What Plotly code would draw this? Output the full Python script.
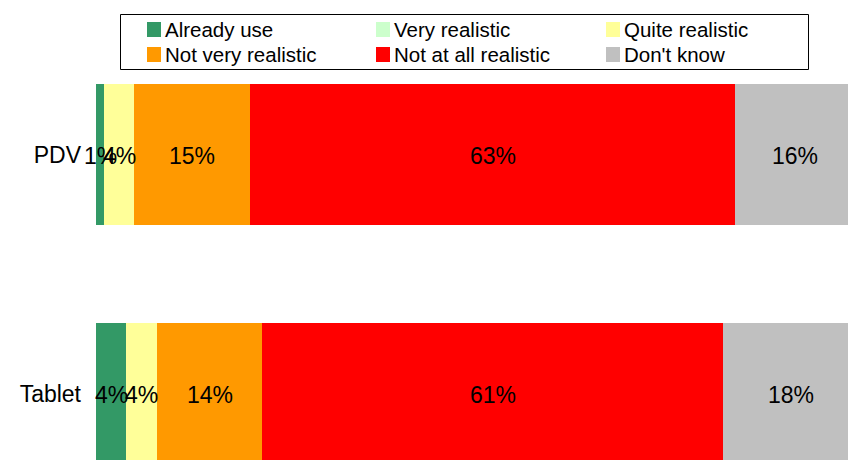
import plotly.graph_objects as go

categories = ["PDV", "Tablet"]
series_names = ["Already use", "Very realistic", "Quite realistic",
                "Not very realistic", "Not at all realistic", "Don't know"]
colors = ["#339966", "#CCFFCC", "#FFFF99", "#FF9900", "#FF0000", "#C0C0C0"]

# values (percent of bar length)
already_use = [1.1, 4.0]
very_realistic = [0.0, 0.0]
quite_realistic = [4.0, 4.1]
not_very_realistic = [15.4, 14.0]
not_at_all_realistic = [64.5, 61.3]
dont_know = [16.0, 18.0]

# data labels as printed on the chart
lbl_already_use = ["1%", "4%"]
lbl_very_realistic = ["", ""]
lbl_quite_realistic = ["4%", "4%"]
lbl_not_very_realistic = ["15%", "14%"]
lbl_not_at_all_realistic = ["63%", "61%"]
lbl_dont_know = ["16%", "18%"]

values = [already_use, very_realistic, quite_realistic,
          not_very_realistic, not_at_all_realistic, dont_know]
labels = [lbl_already_use, lbl_very_realistic, lbl_quite_realistic,
          lbl_not_very_realistic, lbl_not_at_all_realistic, lbl_dont_know]

W, H = 848, 460
ML, MT = 96, 84
PW, PH = W - ML, H - MT
FONT = "Liberation Sans, Arial, sans-serif"

fig = go.Figure()
for name, col, vals in zip(series_names, colors, values):
    fig.add_trace(go.Bar(
        y=categories, x=vals, name=name, orientation="h",
        marker=dict(color=col, line=dict(width=0)),
        hoverinfo="skip", showlegend=False,
    ))

annotations = []
# data labels centred on each segment (computed from the stacked values)
for ci, cat in enumerate(categories):
    base = 0.0
    for vals, txt in zip(values, labels):
        v = vals[ci]
        if v > 0 and txt[ci]:
            annotations.append(dict(
                xref="x", yref="y", x=base + v / 2, y=cat, text=txt[ci],
                showarrow=False, xanchor="center", yanchor="middle",
                yshift=-1,
                font=dict(family=FONT, size=23, color="#000000")))
        base += v

def px_x(p):
    return (p - ML) / PW

def px_y(p):
    return (H - p) / PH

shapes = [dict(type="rect", xref="paper", yref="paper",
               x0=px_x(120.5), x1=px_x(808.5), y0=px_y(14.5), y1=px_y(69.5),
               line=dict(color="#000000", width=1), fillcolor="rgba(0,0,0,0)")]
col_x = [147, 376, 606]
row_y = [29.5, 54.5]
for i, (name, col) in enumerate(zip(series_names, colors)):
    cx = col_x[i % 3]
    cy = row_y[i // 3]
    shapes.append(dict(type="rect", xref="paper", yref="paper",
                       x0=px_x(cx), x1=px_x(cx + 14),
                       y0=px_y(cy - 7.5), y1=px_y(cy + 7.5),
                       line=dict(width=0), fillcolor=col))
    annotations.append(dict(xref="paper", yref="paper", x=px_x(cx + 16),
                            y=px_y(cy), text=name, showarrow=False,
                            xanchor="left", yanchor="middle",
                            font=dict(family=FONT, size=20.5, color="#000000")))

fig.update_layout(
    width=W, height=H,
    margin=dict(l=ML, r=0, t=MT, b=0, pad=0),
    barmode="stack", bargap=0.41,
    plot_bgcolor="white", paper_bgcolor="white",
    shapes=shapes, annotations=annotations,
    xaxis=dict(range=[0, 100], showticklabels=False, showgrid=False,
               zeroline=False, showline=False, fixedrange=True),
    yaxis=dict(type="category", categoryorder="array",
               categoryarray=["Tablet", "PDV"], range=[-0.278, 1.295],
               showgrid=False, zeroline=False, showline=False,
               ticks="", ticklabelstandoff=14,
               tickfont=dict(family=FONT, size=23, color="#000000")),
    font=dict(family=FONT, color="#000000"),
)

fig.write_html("out.html")
